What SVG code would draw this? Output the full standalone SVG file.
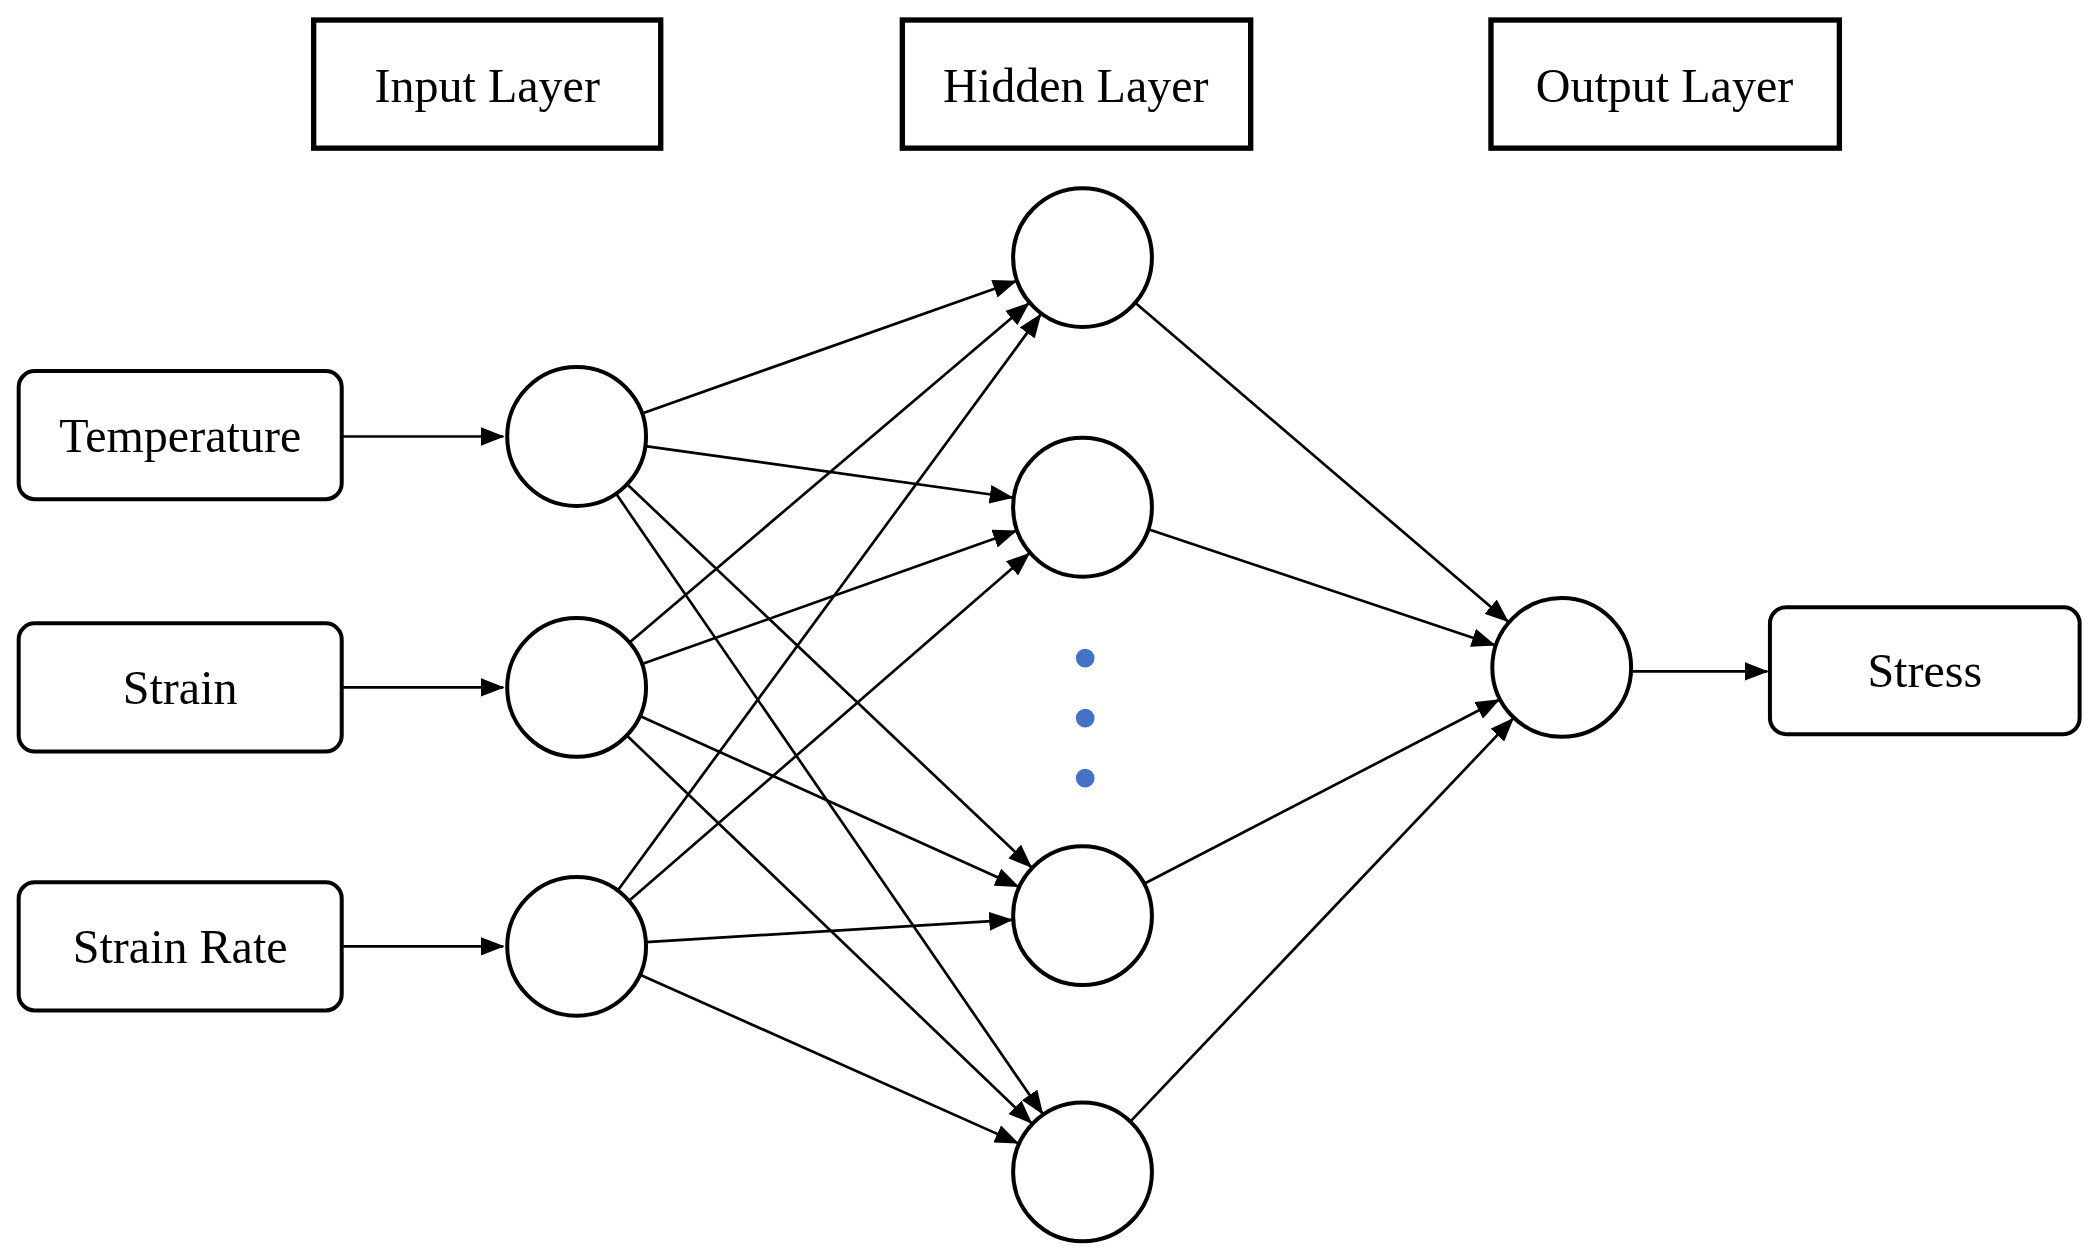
<svg xmlns="http://www.w3.org/2000/svg" width="2093" height="1257" viewBox="0 0 2093 1257">
<style>
.t{font-family:"Liberation Serif","Times New Roman",serif;font-size:36px;fill:#000;text-anchor:middle;dominant-baseline:central}
.lb{fill:#fff;stroke:#000;stroke-width:4}
.ib{fill:#fff;stroke:#000;stroke-width:3}
.c{fill:#fff;stroke:#000;stroke-width:3}
.e{stroke:#000;stroke-width:2;fill:none;marker-end:url(#a)}
.d{fill:#4472C4}
</style>
<defs><marker id="a" markerUnits="userSpaceOnUse" markerWidth="18" markerHeight="14" refX="17" refY="7" orient="auto"><path d="M0,0 L18,7 L0,14 Z" fill="#000"/></marker></defs>
<rect width="2093" height="1257" fill="#fff"/>
<g transform="scale(1.3348)">
<g id="connectors">
<line class="e" x1="256" y1="327" x2="377" y2="327"/>
<line class="e" x1="256" y1="515" x2="377" y2="515"/>
<line class="e" x1="256" y1="709" x2="377" y2="709"/>
<line class="e" x1="481.0" y1="309.7" x2="761.0" y2="210.7"/>
<line class="e" x1="483.5" y1="334.2" x2="758.5" y2="372.7"/>
<line class="e" x1="469.8" y1="362.8" x2="772.5" y2="649.6"/>
<line class="e" x1="461.5" y1="369.8" x2="781.0" y2="834.3"/>
<line class="e" x1="471.6" y1="481.3" x2="770.6" y2="227.3"/>
<line class="e" x1="481.0" y1="497.5" x2="761.1" y2="397.8"/>
<line class="e" x1="479.4" y1="536.4" x2="762.7" y2="664.2"/>
<line class="e" x1="469.6" y1="551.0" x2="772.7" y2="841.3"/>
<line class="e" x1="462.8" y1="667.1" x2="779.6" y2="235.7"/>
<line class="e" x1="471.3" y1="674.9" x2="771.0" y2="414.7"/>
<line class="e" x1="483.9" y1="705.8" x2="758.1" y2="689.2"/>
<line class="e" x1="479.5" y1="730.2" x2="762.6" y2="856.4"/>
<line class="e" x1="850.5" y1="226.8" x2="1129.7" y2="465.6"/>
<line class="e" x1="860.3" y1="396.5" x2="1119.7" y2="483.2"/>
<line class="e" x1="857.2" y1="662.1" x2="1122.9" y2="524.4"/>
<line class="e" x1="846.8" y1="840.3" x2="1133.5" y2="538.4"/>
<line class="e" x1="1222" y1="503" x2="1324" y2="503"/>
</g>
<g id="input-layer-label"><rect class="lb" x="235" y="15" width="260" height="96"/><text class="t" x="365" y="64">Input Layer</text></g>
<g id="hidden-layer-label"><rect class="lb" x="676" y="15" width="261" height="96"/><text class="t" x="806" y="64">Hidden Layer</text></g>
<g id="output-layer-label"><rect class="lb" x="1117" y="15" width="261" height="96"/><text class="t" x="1247" y="64">Output Layer</text></g>
<g id="temperature"><rect class="ib" x="14" y="278" width="242" height="96" rx="12"/><text class="t" x="135" y="326">Temperature</text></g>
<g id="strain"><rect class="ib" x="14" y="467" width="242" height="96" rx="12"/><text class="t" x="135" y="515">Strain</text></g>
<g id="strain-rate"><rect class="ib" x="14" y="661" width="242" height="96" rx="12"/><text class="t" x="135" y="709">Strain Rate</text></g>
<g id="stress"><rect class="ib" x="1326" y="455" width="232" height="95" rx="12"/><text class="t" x="1442" y="502">Stress</text></g>
<g id="in1"><circle class="c" cx="432" cy="327" r="52"/></g>
<g id="in2"><circle class="c" cx="432" cy="515" r="52"/></g>
<g id="in3"><circle class="c" cx="432" cy="709" r="52"/></g>
<g id="h1"><circle class="c" cx="811" cy="193" r="52"/></g>
<g id="h2"><circle class="c" cx="811" cy="380" r="52"/></g>
<g id="h3"><circle class="c" cx="811" cy="686" r="52"/></g>
<g id="h4"><circle class="c" cx="811" cy="878" r="52"/></g>
<g id="out"><circle class="c" cx="1170" cy="500" r="52"/></g>
<g id="dots"><circle class="d" cx="813" cy="493" r="7"/><circle class="d" cx="813" cy="538" r="7"/><circle class="d" cx="813" cy="583" r="7"/></g>
</g>
</svg>
